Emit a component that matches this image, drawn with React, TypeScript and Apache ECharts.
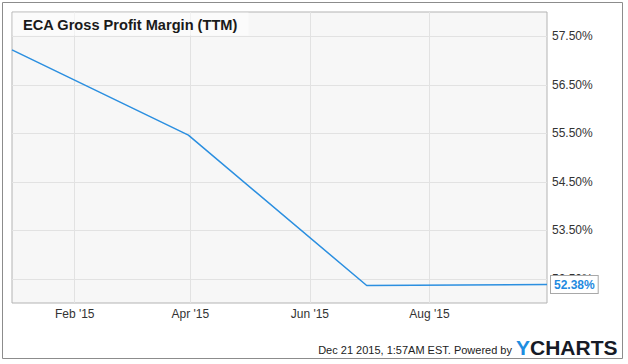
import React, { useEffect, useRef } from "react";
import * as echarts from "echarts";

const dates = ["2014-12-31", "2015-03-31", "2015-06-30", "2015-09-30"];
const margins = [57.22, 55.46, 52.36, 52.38];
const xTickDates = ["2015-02-01", "2015-04-01", "2015-06-01", "2015-08-01"];
const yTicks = [52.5, 53.5, 54.5, 55.5, 56.5, 57.5];
const xRange = ["2014-12-31", "2015-09-30"];
const yMin = 52;
const yMax = 58;
const monthNames = ["Jan", "Feb", "Mar", "Apr", "May", "Jun", "Jul", "Aug", "Sep", "Oct", "Nov", "Dec"];

const ts = (s: string) => {
  const [y, m, d] = s.split("-").map(Number);
  return new Date(y, m - 1, d).getTime();
};

const FONT = "'Liberation Sans', Arial, sans-serif";

export default function App() {
  const ref = useRef<HTMLDivElement>(null);
  useEffect(() => {
    if (!ref.current) return;
    const chart = echarts.init(ref.current, undefined, { renderer: "svg" });
    const xTicks = xTickDates.map(ts);
    chart.setOption({
      animation: false,
      textStyle: { fontFamily: FONT },
      title: {
        text: "ECA Gross Profit Margin (TTM)",
        left: 23,
        top: 17,
        padding: 0,
        textStyle: { fontSize: 14.6, fontWeight: "bold", color: "#1a1a1a", fontFamily: FONT },
        z: 20,
      },
      grid: {
        left: 12,
        top: 12,
        right: 81,
        bottom: 61,
        show: true,
        backgroundColor: "#f7f7f7",
        borderColor: "#b3b3b3",
        borderWidth: 1,
      },
      xAxis: {
        type: "value",
        min: ts(xRange[0]),
        max: ts(xRange[1]),
        axisLine: { show: false },
        axisTick: { show: false, customValues: xTicks },
        splitLine: { show: true, lineStyle: { color: "#e2e2e2", width: 1 } },
        axisLabel: {
          customValues: xTicks,
          margin: 5,
          fontSize: 12,
          color: "#333",
          fontFamily: FONT,
          formatter: (v: number) => {
            const d = new Date(v);
            return monthNames[d.getMonth()] + " '" + String(d.getFullYear()).slice(2);
          },
        },
      },
      yAxis: {
        type: "value",
        position: "right",
        min: yMin,
        max: yMax,
        axisLine: { show: false },
        axisTick: { show: false, customValues: yTicks },
        splitLine: { show: true, lineStyle: { color: "#e2e2e2", width: 1 } },
        axisLabel: {
          customValues: yTicks,
          margin: 5,
          fontSize: 12,
          color: "#333",
          fontFamily: FONT,
          formatter: (v: number) => v.toFixed(2) + "%",
        },
      },
      series: [
        {
          type: "line",
          data: dates.map((d, i) => [ts(d), margins[i]]),
          symbol: "none",
          lineStyle: { color: "#2b8fe0", width: 1.5 },
          z: 5,
          endLabel: {
            show: true,
            distance: 4,
            formatter: (p: any) => p.value[1].toFixed(2) + "%",
            color: "#1f8ae0",
            fontWeight: "bold",
            fontSize: 12,
            fontFamily: FONT,
            backgroundColor: "#ffffff",
            borderColor: "#a8a8a8",
            borderWidth: 1,
            padding: [3, 3, 2, 3],
          },
        },
      ],
      graphic: [
        {
          type: "rect",
          z: -10,
          silent: true,
          shape: { x: 2.5, y: 2.5, width: 620, height: 356 },
          style: { fill: "none", stroke: "#8c8c8c", lineWidth: 1 },
        },
        {
          type: "rect",
          z: 10,
          silent: true,
          shape: { x: 12.5, y: 12.5, width: 236, height: 23 },
          style: { fill: "rgba(255,255,255,0.55)" },
        },
        {
          type: "text",
          z: 10,
          x: 512,
          y: 350,
          style: {
            text: "Dec 21 2015, 1:57AM EST. Powered by",
            align: "right",
            verticalAlign: "middle",
            fontSize: 11,
            fill: "#222",
            fontFamily: FONT,
          },
        },
        {
          type: "text",
          z: 10,
          x: 516,
          y: 347,
          style: {
            text: "{y|Y}{c|CHARTS}",
            align: "left",
            verticalAlign: "middle",
            rich: {
              y: { fontSize: 21, fontWeight: "bold", fill: "#1f8ee0", fontFamily: FONT },
              c: { fontSize: 21, fontWeight: "bold", fill: "#161a26", fontFamily: FONT },
            },
          },
        },
      ],
    });
    return () => chart.dispose();
  }, []);
  return (
    <div
      ref={ref}
      style={{ position: "fixed", left: 0, top: 0, width: 628, height: 364, background: "#fff" }}
    />
  );
}
